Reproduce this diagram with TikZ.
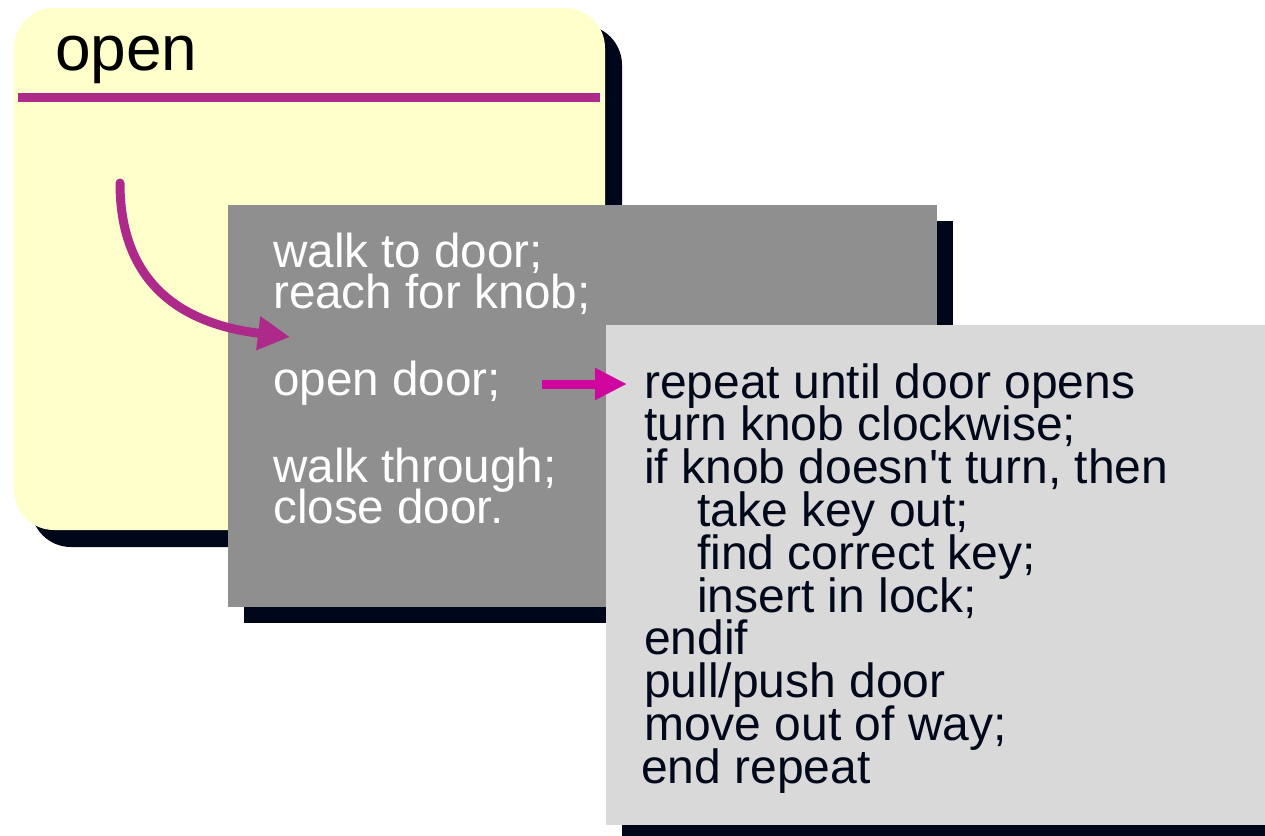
\documentclass[tikz,border=0pt]{standalone}
\usepackage{fontspec}
\setmainfont{Liberation Sans}[Ligatures=TeXOff]
\usetikzlibrary{arrows.meta}
\definecolor{yellowbg}{HTML}{FFFFCC}
\definecolor{shadowc}{HTML}{00061A}
\definecolor{linemag}{HTML}{AD2A8A}
\definecolor{arrowmag}{HTML}{D0079E}
\definecolor{graybox}{HTML}{8F8F8F}
\definecolor{lightbox}{HTML}{D9D9D9}
\definecolor{darktext}{HTML}{00081A}
\tikzset{
  graytext/.style={anchor=base west, inner sep=0pt, text=white, font=\fontsize{47.6}{40}\selectfont},
  lighttext/.style={anchor=base west, inner sep=0pt, text=darktext, font=\fontsize{48}{43}\selectfont},
  titletext/.style={anchor=base west, inner sep=0pt, text=black, font=\fontsize{64}{70}\selectfont},
  shadowbox/.style={fill=shadowc, draw=none},
  curvearrow/.style={draw=linemag, line width=9pt, line cap=round, -{Triangle[length=32pt,width=32pt,line cap=butt]}},
  straightarrow/.style={draw=arrowmag, line width=9pt, -{Triangle[length=32pt,width=30pt]}},
}
\begin{document}
\begin{tikzpicture}[x=1pt,y=-1pt]
\useasboundingbox (0,0) rectangle (1265,835);
\clip (0,0) rectangle (1265,835);
% yellow state box
\fill[shadowc, rounded corners=40pt] (31,25) rectangle (622,547);
\fill[yellowbg, rounded corners=40pt] (14,8) rectangle (605,530);
\draw[linemag, line width=9pt] (18,97) -- (600,97);
\node[titletext] (title) at (55,70) {open};
% gray box
\fill[shadowbox] (244,221) rectangle (953,623);
\fill[graybox] (228,205) rectangle (937,607);
\node[graytext] (g1) at (273,267) {walk to door;};
\node[graytext] (g2) at (273,308) {reach for knob;};
\node[graytext] (g3) at (273,395) {open door;};
\node[graytext] (g4) at (273,482) {walk through;};
\node[graytext] (g5) at (273,523) {close door.};
% light box
\fill[shadowbox] (622,341) rectangle (1281,841);
\fill[lightbox] (606,325) rectangle (1265,825);
\node[lighttext] (l1) at (644,398) {repeat until door opens};
\node[lighttext] (l2) at (644,440.8) {turn knob clockwise;};
\node[lighttext] (l3) at (644,483.6) {if knob doesn't turn, then};
\node[lighttext] (l4) at (697,526.4) {take key out;};
\node[lighttext] (l5) at (697,569.2) {find correct key;};
\node[lighttext] (l6) at (697,612) {insert in lock;};
\node[lighttext] (l7) at (644,654.8) {endif};
\node[lighttext] (l8) at (644,697.6) {pull/push door};
\node[lighttext] (l9) at (644,740.4) {move out of way;};
\node[lighttext] (l10) at (641,783.2) {end repeat};
% arrows
\coordinate (cstart) at (120,183);
\coordinate (cend) at (290,337);
\draw[curvearrow] (cstart) .. controls (120,290) and (190,325) .. (cend);
\coordinate (sstart) at (542,384);
\coordinate (send) at (627,384);
\draw[straightarrow] (sstart) -- (send);
\end{tikzpicture}
\end{document}
